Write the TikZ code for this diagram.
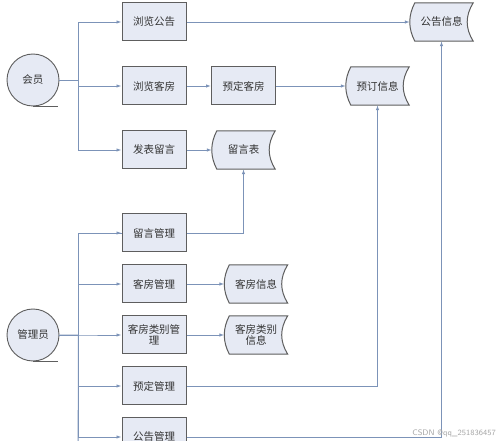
\documentclass[tikz,border=0pt]{standalone}
\usepackage{fontspec}
\newfontfamily\cjk{Noto Sans CJK SC}
\usetikzlibrary{arrows.meta,calc}
\definecolor{boxfill}{HTML}{E6EAF4}
\definecolor{boxline}{HTML}{5E5E5E}
\definecolor{conn}{HTML}{7C93B8}
\definecolor{txt}{HTML}{333333}
\tikzset{
  procbox/.style={draw=boxline, line width=1pt, fill=boxfill, minimum width=64, minimum height=38,
     inner sep=1pt, align=center, font=\cjk\fontsize{10.5}{12.5}\selectfont, text=txt},
  storenode/.style={minimum width=63, minimum height=38, inner sep=1pt, align=center,
     font=\cjk\fontsize{10.5}{12.5}\selectfont, text=txt},
  storeline/.style={draw=boxline, line width=1pt, fill=boxfill},
  actor/.style={circle, draw=boxline, line width=0.9pt, fill=boxfill, minimum size=52, inner sep=0pt,
     font=\cjk\fontsize{10.5}{12.5}\selectfont, text=txt},
  tail/.style={draw=boxline, line width=0.9pt},
  link/.style={draw=conn, line width=0.9pt},
  arr/.style={link, -{Latex[length=5pt,width=3.5pt]}},
}
\newcommand\drawstore[1]{%
  \path[storeline] ($(#1.north west)+(5,0)$)
    .. controls ($(#1.north west)+(-1.7,13)$) and ($(#1.south west)+(-1.7,-13)$) .. ($(#1.south west)+(5,0)$)
    -- (#1.south east)
    .. controls ($(#1.south east)+(-8,-13)$) and ($(#1.north east)+(-8,13)$) .. (#1.north east)
    -- cycle;}
\begin{document}
\begin{tikzpicture}[x=1pt,y=-1pt]
\useasboundingbox (0,0) rectangle (499,441);
\clip (0,0) rectangle (499,441);
\fill[white] (0,0) rectangle (499,441);

% actors
\node[actor] (hy) at (33,80) {会员};
\draw[tail] (hy.south) -- ++(25,0);
\node[actor] (gly) at (33,335) {管理员};
\draw[tail] (gly.south) -- ++(25,0);

% member processes
\node[procbox] (llgg) at (154,22) {浏览公告};
\node[procbox] (llkf) at (154,86) {浏览客房};
\node[procbox] (fbly) at (154,150) {发表留言};
\node[procbox] (ydkf) at (243.5,86) {预定客房};

% admin processes
\node[procbox] (lygl) at (154,233) {留言管理};
\node[procbox] (kfgl) at (154,284) {客房管理};
\node[procbox] (kflbgl) at (154,335) {客房类别管\\[-1pt]理};
\node[procbox] (ydgl) at (154,386) {预定管理};
\node[procbox] (gggl) at (154,437) {公告管理};

% data stores
\node[storenode] (ggxx) at (441.5,22) {};
\drawstore{ggxx}
\node[storenode] at (ggxx) {公告信息};
\node[storenode] (ydxx) at (377.5,86) {};
\drawstore{ydxx}
\node[storenode] at (ydxx) {预订信息};
\node[storenode] (lyb) at (243.5,150) {};
\drawstore{lyb}
\node[storenode] at (lyb) {留言表};
\node[storenode] (kfxx) at (256,284) {};
\drawstore{kfxx}
\node[storenode] at (kfxx) {客房信息};
\node[storenode] (kflbxx) at (256,335) {};
\drawstore{kflbxx}
\node[storenode] at (kflbxx) {客房类别\\[-1pt]信息};

% member buses
\draw[arr] (hy.east) -- ++(19,0) |- (llgg.west);
\draw[arr] (hy.east) -- ++(19,0) |- (llkf.west);
\draw[arr] (hy.east) -- ++(19,0) |- (fbly.west);

% admin buses
\coordinate (busend) at (78,470);
\draw[link] (gly.east) -- ++(19,0) |- (lygl.west);
\draw[link] (gly.east) -- ++(19,0) -- (busend);
\draw[arr] (gly.east) -- ++(19,0) |- (lygl.west);
\draw[arr] (gly.east) -- ++(19,0) |- (kfgl.west);
\draw[arr] (gly.east) -- ++(19,0) |- (kflbgl.west);
\draw[arr] (gly.east) -- ++(19,0) |- (ydgl.west);
\draw[arr] (gly.east) -- ++(19,0) |- (gggl.west);

% flows
\draw[arr] (llgg.east) -- (ggxx.west);
\draw[arr] (llkf.east) -- (ydkf.west);
\draw[arr] (ydkf.east) -- (ydxx.west);
\draw[arr] (fbly.east) -- (lyb.west);
\draw[arr] (kfgl.east) -- (kfxx.west);
\draw[arr] (kflbgl.east) -- (kflbxx.west);
\draw[arr] (lygl.east) -| (lyb.south);
\draw[arr] (ydgl.east) -| (ydxx.south);
\draw[arr] (gggl.east) -| (ggxx.south);

% watermark
\node[anchor=east, text=black!35, font=\fontsize{8}{9}\selectfont\sffamily, inner sep=0pt] (wm) at (496,433) {CSDN @qq\_251836457};
\end{tikzpicture}
\end{document}
